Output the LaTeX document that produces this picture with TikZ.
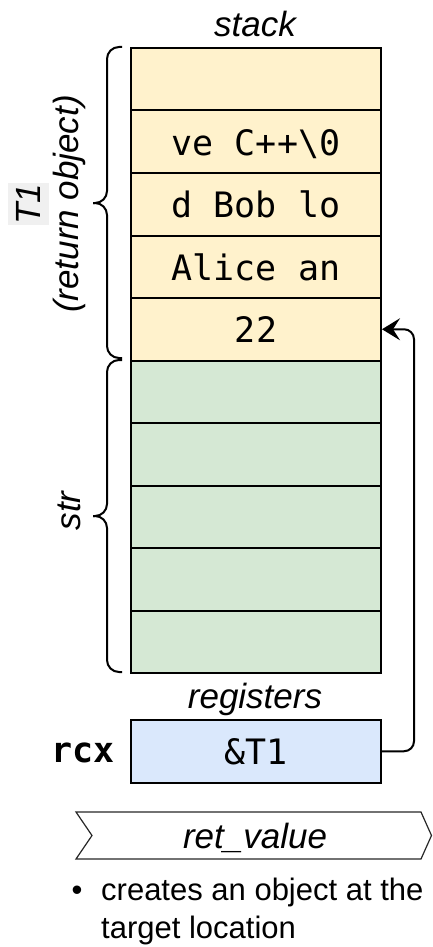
\documentclass[tikz,border=0pt]{standalone}
\usepackage{fontspec}
\setmainfont{Liberation Sans}
\setmonofont{DejaVu Sans Mono}
\usetikzlibrary{arrows.meta}

\definecolor{objyellow}{HTML}{FFF2CC}
\definecolor{strgreen}{HTML}{D5E8D4}
\definecolor{regblue}{HTML}{DAE8FC}

\tikzset{
  slot/.style={draw, line width=2pt, minimum width=250pt, minimum height=62.5pt, inner sep=0pt,
    text height=27pt, text depth=0pt, anchor=north west, font=\fontsize{35}{38}\selectfont\ttfamily},
  tag/.style={inner sep=0pt, font=\fontsize{35}{38}\selectfont\itshape},
  bracket/.style={line width=2pt, rounded corners=12pt},
}

\begin{document}
\begin{tikzpicture}[x=1pt, y=-1pt]
  \useasboundingbox (0,0) rectangle (432,947);

  \def\rowh{62.5}
  \def\stacktop{47}

  \foreach \i/\col/\txt in {0/objyellow/{}, 1/objyellow/{ve C++\textbackslash0}, 2/objyellow/{d Bob lo},
      3/objyellow/{Alice an}, 4/objyellow/{22}, 5/strgreen/{}, 6/strgreen/{}, 7/strgreen/{},
      8/strgreen/{}, 9/strgreen/{}}
    \node[slot, fill=\col] (c\i) at (130, \stacktop + \i*\rowh) {\txt};

  \node[tag, anchor=base] (stacklbl) at (255,37) {stack};

  \draw[bracket] (122,47) -| (107,203) -- (93,203);
  \draw[bracket] (122,358) -| (107,203) -- (93,203);
  \draw[bracket] (122,360) -| (107,516) -- (93,516);
  \draw[bracket] (122,672) -| (107,516) -- (93,516);

  \node[tag, rotate=90, anchor=base, fill=black!6, text height=32pt, text depth=9pt, inner xsep=1pt] (t1) at (40,204) {T1};
  \node[tag, rotate=90, anchor=base] (retobj) at (78,204) {(return object)};
  \node[tag, rotate=90, anchor=base] (strlbl) at (80,511) {str};

  \node[tag, anchor=base] (reglbl) at (255,708) {registers};
  \node[slot, fill=regblue] (rcx) at (130,719) {\&T1};
  \node[anchor=base, inner sep=0pt, font=\fontsize{35}{38}\selectfont\ttfamily\bfseries] (rcxlbl) at (83,762) {rcx};

  \draw[line width=2pt, rounded corners=10pt, -{Stealth[length=18pt, width=22pt, inset=7pt]}]
    (rcx.east) -- ++(32,0) |- (c4.east);

  \draw[line width=1.2pt, draw=black!85] (76,812) -- (421,812) -- (431.5,835.5) -- (421,859)
    -- (76,859) -- (92,835.5) -- cycle;
  \node[tag, anchor=base] (ret) at (255,848) {ret\_value};

  \node[anchor=base, inner sep=0pt, font=\fontsize{31}{38}\selectfont] (dot) at (77,900) {\textbullet};
  \node[anchor=base west, align=left, inner sep=0pt, font=\fontsize{31}{38}\selectfont] (note) at (101,938)
    {creates an object at the\\target location};
\end{tikzpicture}
\end{document}
